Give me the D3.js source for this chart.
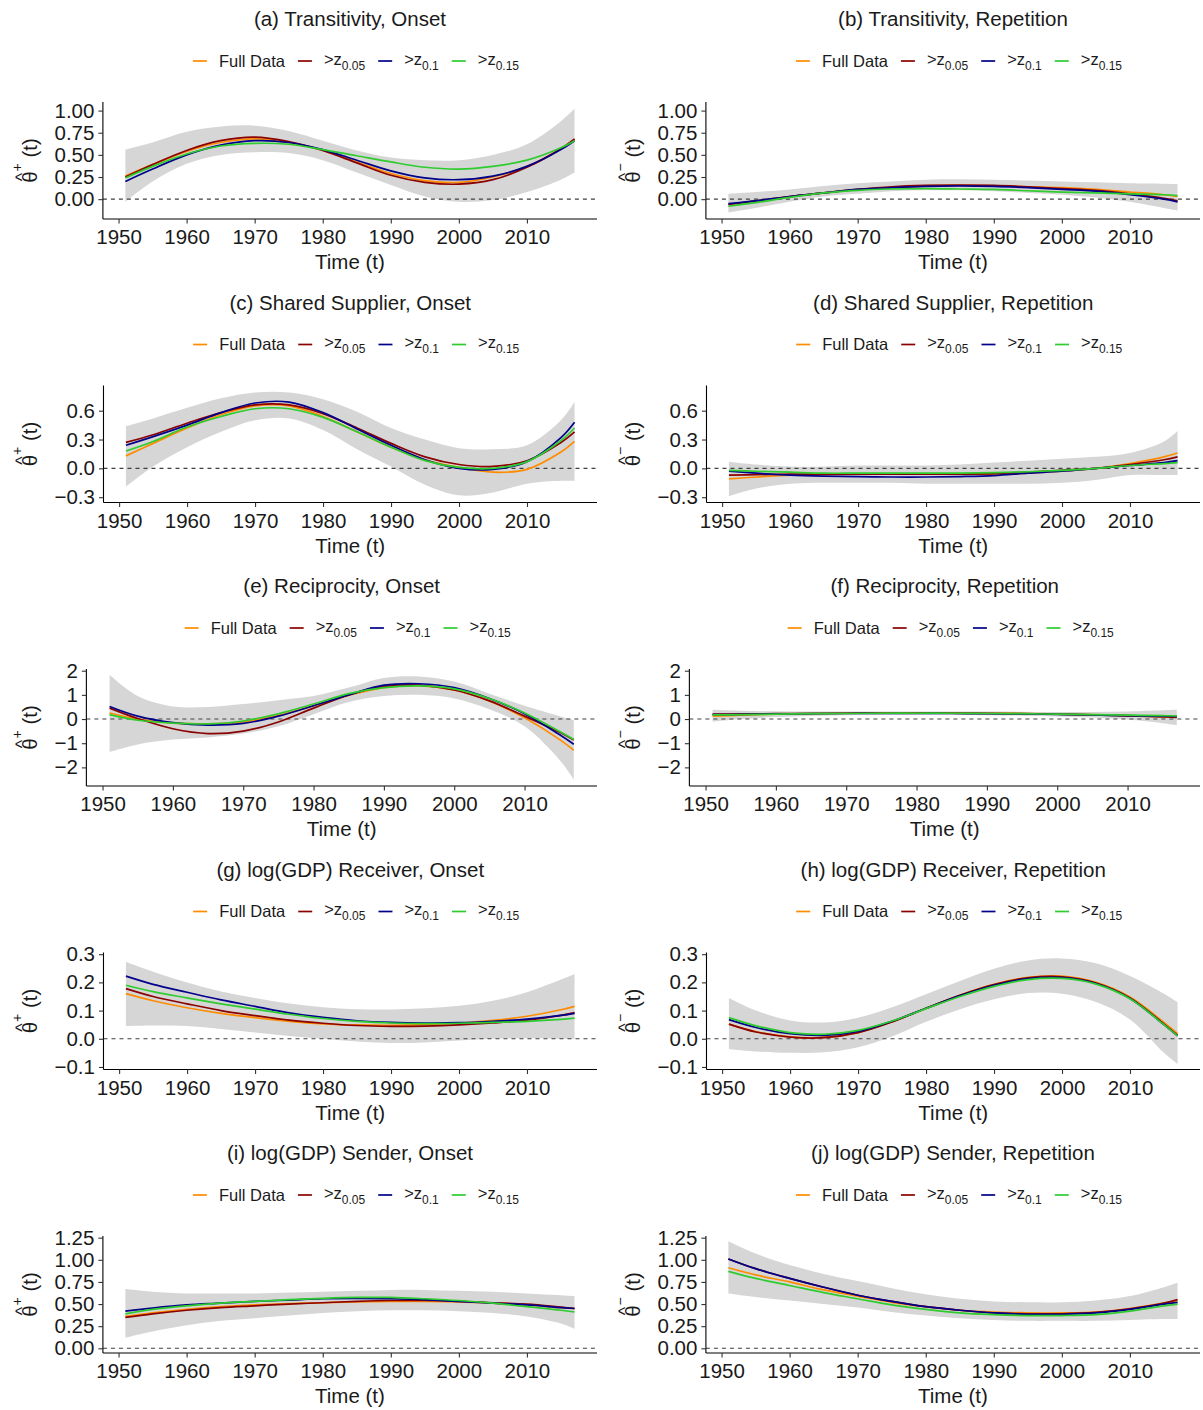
<!DOCTYPE html>
<html>
<head>
<meta charset="utf-8">
<script src="https://cdn.jsdelivr.net/npm/d3@7"></script>
<style>
  body { margin: 0; background: #fff; }
  text { font-family: "Liberation Sans", Arial, Helvetica, sans-serif; }
</style>
</head>
<body>
<svg id="chart" width="1203" height="1410"></svg>
<script>
// Sample years for every estimated curve
const years = [1951, 1955, 1960, 1965, 1970, 1975, 1980, 1985, 1990, 1995, 2000, 2005, 2010, 2015, 2017];

// Legend
const seriesLabels = ["Full Data", ">z", ">z", ">z"];
const seriesSubs = ["", "0.05", "0.1", "0.15"];
const seriesColors = ["#FF8C00", "#8B0000", "#00008B", "#2ECC2E"];

// x ticks
const xTicks = [1950, 1960, 1970, 1980, 1990, 2000, 2010];

// y ticks and ranges for each row
const row1Ticks = [0, 0.25, 0.5, 0.75, 1.0];
const row1Labels = ["0.00", "0.25", "0.50", "0.75", "1.00"];
const row1Range = [-0.224, 1.097];
const row2Ticks = [-0.3, 0, 0.3, 0.6];
const row2Labels = ["\u22120.3", "0.0", "0.3", "0.6"];
const row2Range = [-0.355, 0.862];
const row3Ticks = [-2, -1, 0, 1, 2];
const row3Labels = ["\u22122", "\u22121", "0", "1", "2"];
const row3Range = [-2.77, 2.07];
const row4Ticks = [-0.1, 0, 0.1, 0.2, 0.3];
const row4Labels = ["\u22120.1", "0.0", "0.1", "0.2", "0.3"];
const row4Range = [-0.109, 0.306];
const row5Ticks = [0, 0.25, 0.5, 0.75, 1.0, 1.25];
const row5Labels = ["0.00", "0.25", "0.50", "0.75", "1.00", "1.25"];
const row5Range = [-0.053, 1.269];

// (a) Transitivity, Onset
const aFull  = [0.26, 0.39, 0.54, 0.64, 0.68, 0.64, 0.55, 0.42, 0.29, 0.21, 0.19, 0.25, 0.37, 0.57, 0.67];
const aZ05   = [0.25, 0.39, 0.55, 0.66, 0.70, 0.65, 0.55, 0.41, 0.27, 0.19, 0.17, 0.22, 0.36, 0.57, 0.68];
const aZ10   = [0.20, 0.34, 0.50, 0.61, 0.66, 0.64, 0.56, 0.44, 0.32, 0.24, 0.22, 0.26, 0.37, 0.56, 0.66];
const aZ15   = [0.24, 0.37, 0.51, 0.60, 0.63, 0.62, 0.56, 0.49, 0.42, 0.36, 0.34, 0.37, 0.44, 0.58, 0.66];
const aUpper = [0.56, 0.64, 0.76, 0.82, 0.83, 0.77, 0.66, 0.55, 0.47, 0.44, 0.44, 0.50, 0.62, 0.88, 1.02];
const aLower = [-0.03, 0.20, 0.40, 0.50, 0.53, 0.52, 0.44, 0.30, 0.16, 0.03, -0.03, -0.01, 0.08, 0.22, 0.30];

// (b) Transitivity, Repetition
const bFull  = [-0.06, -0.02, 0.03, 0.07, 0.11, 0.13, 0.15, 0.155, 0.15, 0.14, 0.13, 0.11, 0.08, 0.05, 0.03];
const bZ05   = [-0.06, -0.02, 0.03, 0.07, 0.11, 0.14, 0.155, 0.16, 0.155, 0.14, 0.12, 0.10, 0.06, 0.01, -0.02];
const bZ10   = [-0.05, -0.02, 0.03, 0.07, 0.11, 0.13, 0.145, 0.15, 0.145, 0.13, 0.11, 0.09, 0.05, 0.00, -0.03];
const bZ15   = [-0.08, -0.04, 0.02, 0.07, 0.10, 0.115, 0.12, 0.115, 0.11, 0.095, 0.08, 0.07, 0.06, 0.05, 0.04];
const bUpper = [0.06, 0.08, 0.11, 0.15, 0.18, 0.20, 0.22, 0.225, 0.22, 0.21, 0.20, 0.19, 0.18, 0.175, 0.17];
const bLower = [-0.15, -0.10, -0.03, 0.03, 0.06, 0.09, 0.10, 0.10, 0.09, 0.07, 0.05, 0.02, -0.03, -0.10, -0.13];

// (c) Shared Supplier, Onset
const cFull  = [0.13, 0.26, 0.42, 0.56, 0.65, 0.65, 0.54, 0.38, 0.22, 0.09, 0.01, -0.04, -0.01, 0.17, 0.28];
const cZ05   = [0.27, 0.35, 0.47, 0.58, 0.66, 0.66, 0.57, 0.42, 0.26, 0.12, 0.04, 0.02, 0.08, 0.27, 0.38];
const cZ10   = [0.24, 0.33, 0.45, 0.58, 0.68, 0.69, 0.58, 0.41, 0.24, 0.09, 0.00, -0.01, 0.07, 0.32, 0.48];
const cZ15   = [0.18, 0.28, 0.43, 0.54, 0.62, 0.62, 0.53, 0.38, 0.22, 0.08, 0.01, 0.00, 0.07, 0.29, 0.42];
const cUpper = [0.44, 0.52, 0.63, 0.73, 0.79, 0.79, 0.72, 0.59, 0.42, 0.30, 0.21, 0.20, 0.24, 0.50, 0.69];
const cLower = [-0.19, 0.02, 0.22, 0.38, 0.50, 0.52, 0.40, 0.20, 0.02, -0.17, -0.28, -0.25, -0.16, -0.13, -0.13];

// (d) Shared Supplier, Repetition
const dFull  = [-0.11, -0.09, -0.07, -0.065, -0.06, -0.06, -0.06, -0.06, -0.06, -0.05, -0.03, 0.00, 0.05, 0.12, 0.16];
const dZ05   = [-0.07, -0.065, -0.06, -0.06, -0.06, -0.06, -0.06, -0.06, -0.055, -0.04, -0.02, 0.00, 0.04, 0.09, 0.12];
const dZ10   = [-0.03, -0.05, -0.07, -0.08, -0.085, -0.09, -0.09, -0.085, -0.075, -0.05, -0.03, 0.00, 0.03, 0.06, 0.08];
const dZ15   = [-0.02, -0.03, -0.04, -0.05, -0.05, -0.05, -0.05, -0.05, -0.045, -0.035, -0.02, 0.00, 0.03, 0.05, 0.06];
const dUpper = [0.07, 0.04, 0.02, 0.02, 0.03, 0.03, 0.03, 0.04, 0.06, 0.08, 0.10, 0.12, 0.16, 0.28, 0.39];
const dLower = [-0.29, -0.21, -0.16, -0.15, -0.15, -0.15, -0.16, -0.16, -0.16, -0.16, -0.15, -0.12, -0.07, -0.07, -0.07];

// (e) Reciprocity, Onset
const eFull  = [0.25, 0.00, -0.17, -0.20, -0.12, 0.15, 0.55, 0.98, 1.30, 1.38, 1.20, 0.75, 0.05, -0.85, -1.29];
const eZ05   = [0.45, 0.02, -0.40, -0.60, -0.50, -0.12, 0.45, 1.00, 1.35, 1.40, 1.20, 0.75, 0.12, -0.55, -0.87];
const eZ10   = [0.52, 0.12, -0.15, -0.25, -0.18, 0.12, 0.55, 1.00, 1.40, 1.46, 1.30, 0.85, 0.22, -0.65, -1.04];
const eZ15   = [0.18, -0.05, -0.17, -0.20, -0.08, 0.22, 0.62, 1.05, 1.30, 1.37, 1.25, 0.85, 0.25, -0.52, -0.85];
const eUpper = [1.83, 0.95, 0.52, 0.50, 0.62, 0.78, 0.95, 1.30, 1.70, 1.76, 1.55, 1.05, 0.55, 0.12, -0.04];
const eLower = [-1.36, -1.05, -0.85, -0.76, -0.60, -0.30, 0.20, 0.70, 0.95, 1.00, 0.85, 0.40, -0.30, -1.70, -2.50];

// (f) Reciprocity, Repetition
const fFull  = [0.12, 0.16, 0.20, 0.23, 0.24, 0.25, 0.25, 0.25, 0.24, 0.23, 0.21, 0.18, 0.14, 0.10, 0.08];
const fZ05   = [0.20, 0.21, 0.22, 0.23, 0.24, 0.24, 0.24, 0.24, 0.23, 0.22, 0.20, 0.17, 0.13, 0.09, 0.07];
const fZ10   = [0.18, 0.19, 0.21, 0.22, 0.23, 0.23, 0.23, 0.23, 0.22, 0.21, 0.19, 0.17, 0.14, 0.12, 0.11];
const fZ15   = [0.17, 0.18, 0.20, 0.22, 0.23, 0.24, 0.24, 0.24, 0.23, 0.22, 0.20, 0.18, 0.16, 0.14, 0.13];
const fUpper = [0.38, 0.34, 0.32, 0.31, 0.31, 0.31, 0.31, 0.31, 0.31, 0.30, 0.29, 0.29, 0.31, 0.36, 0.38];
const fLower = [-0.11, 0.00, 0.08, 0.13, 0.16, 0.17, 0.17, 0.17, 0.16, 0.14, 0.11, 0.06, -0.02, -0.17, -0.25];

// (g) log(GDP) Receiver, Onset
const gFull  = [0.160, 0.135, 0.110, 0.090, 0.075, 0.062, 0.053, 0.049, 0.048, 0.050, 0.055, 0.065, 0.080, 0.103, 0.115];
const gZ05   = [0.178, 0.150, 0.124, 0.100, 0.082, 0.066, 0.055, 0.047, 0.044, 0.045, 0.049, 0.056, 0.066, 0.083, 0.093];
const gZ10   = [0.222, 0.193, 0.165, 0.138, 0.115, 0.092, 0.076, 0.064, 0.058, 0.056, 0.057, 0.062, 0.070, 0.083, 0.090];
const gZ15   = [0.190, 0.167, 0.145, 0.124, 0.105, 0.087, 0.072, 0.062, 0.056, 0.054, 0.055, 0.058, 0.062, 0.069, 0.073];
const gUpper = [0.272, 0.238, 0.200, 0.168, 0.145, 0.125, 0.112, 0.105, 0.104, 0.108, 0.117, 0.135, 0.165, 0.210, 0.230];
const gLower = [0.045, 0.047, 0.045, 0.035, 0.022, 0.010, 0.000, -0.010, -0.015, -0.013, -0.006, 0.000, 0.002, 0.000, 0.000];

// (h) log(GDP) Receiver, Repetition
const hFull  = [0.052, 0.025, 0.007, 0.005, 0.022, 0.060, 0.108, 0.155, 0.193, 0.218, 0.222, 0.200, 0.148, 0.058, 0.018];
const hZ05   = [0.052, 0.024, 0.006, 0.004, 0.022, 0.060, 0.108, 0.154, 0.192, 0.216, 0.220, 0.198, 0.145, 0.052, 0.012];
const hZ10   = [0.068, 0.040, 0.018, 0.012, 0.026, 0.062, 0.108, 0.153, 0.190, 0.213, 0.217, 0.196, 0.143, 0.050, 0.010];
const hZ15   = [0.075, 0.046, 0.022, 0.016, 0.030, 0.063, 0.107, 0.150, 0.186, 0.210, 0.214, 0.194, 0.142, 0.050, 0.010];
const hUpper = [0.145, 0.100, 0.065, 0.058, 0.075, 0.112, 0.158, 0.205, 0.248, 0.278, 0.285, 0.268, 0.223, 0.160, 0.130];
const hLower = [-0.037, -0.045, -0.050, -0.048, -0.030, 0.008, 0.060, 0.105, 0.140, 0.162, 0.160, 0.130, 0.068, -0.050, -0.090];

// (i) log(GDP) Sender, Onset
const iFull  = [0.36, 0.40, 0.44, 0.47, 0.49, 0.505, 0.515, 0.525, 0.53, 0.53, 0.525, 0.51, 0.49, 0.46, 0.45];
const iZ05   = [0.35, 0.39, 0.43, 0.46, 0.48, 0.50, 0.515, 0.53, 0.54, 0.54, 0.53, 0.515, 0.50, 0.465, 0.45];
const iZ10   = [0.42, 0.455, 0.49, 0.51, 0.53, 0.545, 0.56, 0.565, 0.56, 0.55, 0.53, 0.51, 0.49, 0.46, 0.45];
const iZ15   = [0.39, 0.44, 0.48, 0.51, 0.53, 0.55, 0.565, 0.575, 0.575, 0.56, 0.54, 0.51, 0.47, 0.43, 0.41];
const iUpper = [0.67, 0.64, 0.62, 0.62, 0.62, 0.63, 0.64, 0.65, 0.66, 0.66, 0.65, 0.64, 0.62, 0.60, 0.59];
const iLower = [0.12, 0.19, 0.26, 0.31, 0.34, 0.37, 0.40, 0.42, 0.43, 0.43, 0.42, 0.40, 0.36, 0.28, 0.22];

// (j) log(GDP) Sender, Repetition
const jFull  = [0.91, 0.83, 0.75, 0.66, 0.59, 0.52, 0.47, 0.43, 0.41, 0.40, 0.40, 0.41, 0.45, 0.51, 0.54];
const jZ05   = [1.01, 0.90, 0.79, 0.69, 0.60, 0.53, 0.47, 0.43, 0.40, 0.39, 0.39, 0.405, 0.445, 0.51, 0.55];
const jZ10   = [1.01, 0.90, 0.79, 0.69, 0.60, 0.53, 0.47, 0.43, 0.40, 0.385, 0.385, 0.40, 0.44, 0.50, 0.52];
const jZ15   = [0.87, 0.79, 0.71, 0.63, 0.56, 0.49, 0.44, 0.40, 0.38, 0.37, 0.37, 0.38, 0.42, 0.48, 0.50];
const jUpper = [1.21, 1.07, 0.94, 0.84, 0.76, 0.68, 0.61, 0.56, 0.53, 0.52, 0.52, 0.54, 0.59, 0.69, 0.74];
const jLower = [0.62, 0.58, 0.54, 0.50, 0.46, 0.41, 0.37, 0.34, 0.32, 0.31, 0.31, 0.31, 0.32, 0.33, 0.33];

const panels = [
  { title: "(a) Transitivity, Onset",           sign: "+", row: 0, col: 0, series: [aFull, aZ05, aZ10, aZ15], upper: aUpper, lower: aLower, ticks: row1Ticks, labels: row1Labels, range: row1Range },
  { title: "(b) Transitivity, Repetition",      sign: "\u2212", row: 0, col: 1, series: [bFull, bZ05, bZ10, bZ15], upper: bUpper, lower: bLower, ticks: row1Ticks, labels: row1Labels, range: row1Range },
  { title: "(c) Shared Supplier, Onset",        sign: "+", row: 1, col: 0, series: [cFull, cZ05, cZ10, cZ15], upper: cUpper, lower: cLower, ticks: row2Ticks, labels: row2Labels, range: row2Range },
  { title: "(d) Shared Supplier, Repetition",   sign: "\u2212", row: 1, col: 1, series: [dFull, dZ05, dZ10, dZ15], upper: dUpper, lower: dLower, ticks: row2Ticks, labels: row2Labels, range: row2Range },
  { title: "(e) Reciprocity, Onset",            sign: "+", row: 2, col: 0, series: [eFull, eZ05, eZ10, eZ15], upper: eUpper, lower: eLower, ticks: row3Ticks, labels: row3Labels, range: row3Range },
  { title: "(f) Reciprocity, Repetition",       sign: "\u2212", row: 2, col: 1, series: [fFull, fZ05, fZ10, fZ15], upper: fUpper, lower: fLower, ticks: row3Ticks, labels: row3Labels, range: row3Range },
  { title: "(g) log(GDP) Receiver, Onset",      sign: "+", row: 3, col: 0, series: [gFull, gZ05, gZ10, gZ15], upper: gUpper, lower: gLower, ticks: row4Ticks, labels: row4Labels, range: row4Range },
  { title: "(h) log(GDP) Receiver, Repetition", sign: "\u2212", row: 3, col: 1, series: [hFull, hZ05, hZ10, hZ15], upper: hUpper, lower: hLower, ticks: row4Ticks, labels: row4Labels, range: row4Range },
  { title: "(i) log(GDP) Sender, Onset",        sign: "+", row: 4, col: 0, series: [iFull, iZ05, iZ10, iZ15], upper: iUpper, lower: iLower, ticks: row5Ticks, labels: row5Labels, range: row5Range },
  { title: "(j) log(GDP) Sender, Repetition",   sign: "\u2212", row: 4, col: 1, series: [jFull, jZ05, jZ10, jZ15], upper: jUpper, lower: jLower, ticks: row5Ticks, labels: row5Labels, range: row5Range }
];

// ---- layout ----
const svg = d3.select("#chart");
const rowTop = r => r * 283.5;
const colLeft = c => c * 603;
const TICK_FONT = 20.5;
const TITLE_FONT = 20.5;
const LEGEND_FONT = 16.5;
const textColor = "#1a1a1a";

// measure text widths for aligning the y axes
const measurer = svg.append("text").attr("font-size", TICK_FONT).attr("visibility", "hidden");
function textWidth(s, size) {
  measurer.attr("font-size", size).text(s);
  return measurer.node().getComputedTextLength();
}

const xExt = d3.extent(years);
const xPad = (xExt[1] - xExt[0]) * 0.05;

panels.forEach(p => {
  const top = rowTop(p.row) + 102;
  const bottom = rowTop(p.row) + 219;
  const maxLab = d3.max(p.labels, l => textWidth(l, TICK_FONT));
  const left = colLeft(p.col) + 63 + maxLab;
  const right = colLeft(p.col) + 597;
  const cx = (left + right) / 2;

  const x = d3.scaleLinear().domain([xExt[0] - xPad, xExt[1] + xPad]).range([left, right]);
  const y = d3.scaleLinear().domain(p.range).range([bottom, top]);

  const g = svg.append("g");

  // title
  g.append("text")
    .attr("x", cx).attr("y", rowTop(p.row) + 26)
    .attr("text-anchor", "middle")
    .attr("font-size", TITLE_FONT).attr("fill", textColor)
    .text(p.title);

  // legend
  const lg = g.append("g");
  let lx = 0;
  const ly = rowTop(p.row) + 61;
  seriesLabels.forEach((lab, k) => {
    lg.append("line")
      .attr("x1", lx).attr("x2", lx + 14)
      .attr("y1", ly).attr("y2", ly)
      .attr("stroke", seriesColors[k]).attr("stroke-width", 1.7);
    const t = lg.append("text")
      .attr("x", lx + 26).attr("y", ly + 5.5)
      .attr("font-size", LEGEND_FONT).attr("fill", textColor);
    if (seriesSubs[k]) {
      t.append("tspan").attr("dy", -2).text(lab);
      t.append("tspan").attr("font-size", 12).attr("dy", 5).text(seriesSubs[k]);
    } else {
      t.text(lab);
    }
    lx += 26 + t.node().getComputedTextLength() + 13;
  });
  const lw = lx - 13;
  lg.attr("transform", `translate(${cx + 6 - lw / 2},0)`);

  // ribbon
  const band = years.map((yr, i) => ({ yr, lo: p.lower[i], hi: p.upper[i] }));
  g.append("path")
    .datum(band)
    .attr("fill", "#d6d6d6")
    .attr("d", d3.area()
      .x(d => x(d.yr)).y0(d => y(d.lo)).y1(d => y(d.hi))
      .curve(d3.curveCatmullRom.alpha(0.5)));

  // zero reference line
  g.append("line")
    .attr("x1", left).attr("x2", right)
    .attr("y1", y(0)).attr("y2", y(0))
    .attr("stroke", "#404040").attr("stroke-width", 1.1)
    .attr("stroke-dasharray", "4,4");

  // estimated curves
  const line = d3.line()
    .x(d => x(d.yr)).y(d => y(d.v))
    .curve(d3.curveCatmullRom.alpha(0.5));
  p.series.forEach((vals, k) => {
    g.append("path")
      .datum(years.map((yr, i) => ({ yr, v: vals[i] })))
      .attr("fill", "none")
      .attr("stroke", seriesColors[k])
      .attr("stroke-width", 1.7)
      .attr("d", line);
  });

  // axes
  const xAxis = d3.axisBottom(x).tickValues(xTicks).tickFormat(d3.format("d"))
    .tickSizeOuter(0).tickSize(4.5).tickPadding(6);
  const gx = g.append("g").attr("transform", `translate(0,${bottom})`).call(xAxis);
  const yAxis = d3.axisLeft(y).tickValues(p.ticks).tickFormat((d, i) => p.labels[i])
    .tickSizeOuter(0).tickSize(4.5).tickPadding(4);
  const gy = g.append("g").attr("transform", `translate(${left},0)`).call(yAxis);

  [gx, gy].forEach(ax => {
    ax.select(".domain").attr("stroke", "#000").attr("stroke-width", 1.1);
    ax.selectAll(".tick line").attr("stroke", "#333").attr("stroke-width", 1.1);
    ax.selectAll(".tick text")
      .attr("font-size", TICK_FONT).attr("fill", textColor)
      .attr("font-family", "'Liberation Sans', Arial, sans-serif");
  });
  // x domain line spans the full panel width
  gx.select(".domain").attr("d", `M${left},0H${right}`);
  gy.select(".domain").attr("d", `M0,${top}V${bottom}`);

  // axis titles
  g.append("text")
    .attr("x", cx).attr("y", bottom + 50)
    .attr("text-anchor", "middle")
    .attr("font-size", TITLE_FONT).attr("fill", textColor)
    .text("Time (t)");

  // y title: theta-hat with a sign superscript, rotated
  const yg = g.append("g")
    .attr("transform", `translate(${colLeft(p.col) + 37},${(top + bottom) / 2}) rotate(-90)`);
  const yt = yg.append("text")
    .attr("font-size", TITLE_FONT).attr("fill", textColor);
  yt.append("tspan").text("\u03B8");
  yt.append("tspan").attr("font-size", 14).attr("dy", -15).text(p.sign);
  yt.append("tspan").attr("dy", 15).text(" (t)");
  const totalW = yt.node().getComputedTextLength();
  const thetaW = textWidth("\u03B8", TITLE_FONT);
  yt.attr("x", -totalW / 2);
  yg.append("text")
    .attr("x", -totalW / 2 + thetaW / 2).attr("y", -9)
    .attr("text-anchor", "middle")
    .attr("font-size", 18).attr("fill", textColor)
    .text("^");
});
measurer.remove();
</script>
</body>
</html>
